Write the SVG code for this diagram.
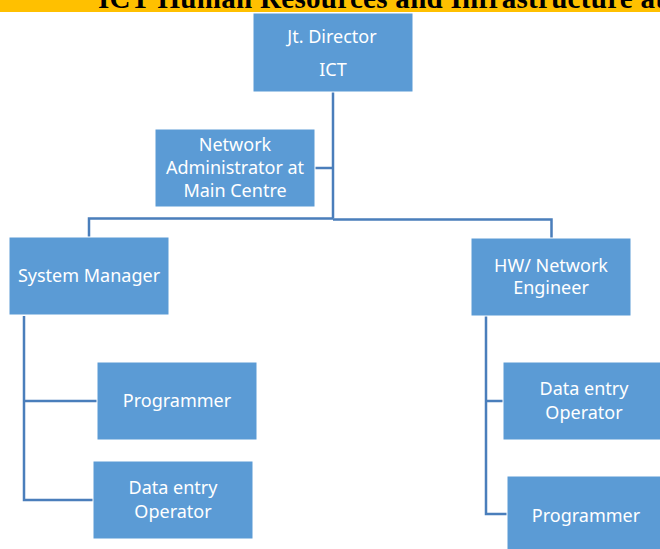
<svg xmlns="http://www.w3.org/2000/svg" width="660" height="549" viewBox="0 0 660 549">
  <style>
    .box { fill: #5B9BD5; stroke: #ffffff; stroke-width: 1; }
    .lbl { font-family: "Noto Sans", "Open Sans", sans-serif; font-size: 18px; fill: #ffffff; text-anchor: middle; }
    .wire { fill: none; stroke: #4A7EBB; stroke-width: 2.5; }
    .title { font-family: "Liberation Serif", "Times New Roman", serif; font-weight: bold; font-size: 29px; fill: #000000; }
  </style>

  <rect width="660" height="549" fill="#ffffff"/>

  <!-- heading strip, clipped at the top edge -->
  <g id="heading">
    <rect x="0" y="0" width="660" height="12" fill="#FFC000"/>
    <text class="title" x="98" y="7.5" textLength="567" lengthAdjust="spacing">ICT Human Resources and Infrastructure at</text>
  </g>

  <!-- connectors -->
  <g id="connectors">
    <path class="wire" d="M333,92 V218.5"/>
    <path class="wire" d="M315,168 H333"/>
    <path class="wire" d="M89,237 V218.5 H333 M333,219.5 H551.5 V238"/>
    <path class="wire" d="M24,316 V500 H93 M24,401 H97"/>
    <path class="wire" d="M486,316 V514 H507 M486,401 H503"/>
  </g>

  <g id="jt-director">
    <rect class="box" x="253" y="13" width="160" height="79"/>
    <text class="lbl" x="332" y="43">Jt. Director</text>
    <text class="lbl" x="333" y="76">ICT</text>
  </g>

  <g id="network-admin">
    <rect class="box" x="155" y="129" width="160" height="78"/>
    <text class="lbl" x="235" y="151">Network</text>
    <text class="lbl" x="235" y="174">Administrator at</text>
    <text class="lbl" x="235" y="197">Main Centre</text>
  </g>

  <g id="system-manager">
    <rect class="box" x="9" y="237" width="160" height="78"/>
    <text class="lbl" x="89" y="282">System Manager</text>
  </g>

  <g id="hw-network-engineer">
    <rect class="box" x="471" y="238" width="160" height="78"/>
    <text class="lbl" x="551" y="272">HW/ Network</text>
    <text class="lbl" x="551" y="294">Engineer</text>
  </g>

  <g id="programmer-left">
    <rect class="box" x="97" y="362" width="160" height="78"/>
    <text class="lbl" x="177" y="407">Programmer</text>
  </g>

  <g id="data-entry-left">
    <rect class="box" x="93" y="461" width="160" height="78"/>
    <text class="lbl" x="173" y="494">Data entry</text>
    <text class="lbl" x="173" y="518">Operator</text>
  </g>

  <g id="data-entry-right">
    <rect class="box" x="503" y="362" width="160" height="78"/>
    <text class="lbl" x="584" y="395">Data entry</text>
    <text class="lbl" x="584" y="419">Operator</text>
  </g>

  <g id="programmer-right">
    <rect class="box" x="507" y="476" width="160" height="78"/>
    <text class="lbl" x="586" y="522">Programmer</text>
  </g>
</svg>
